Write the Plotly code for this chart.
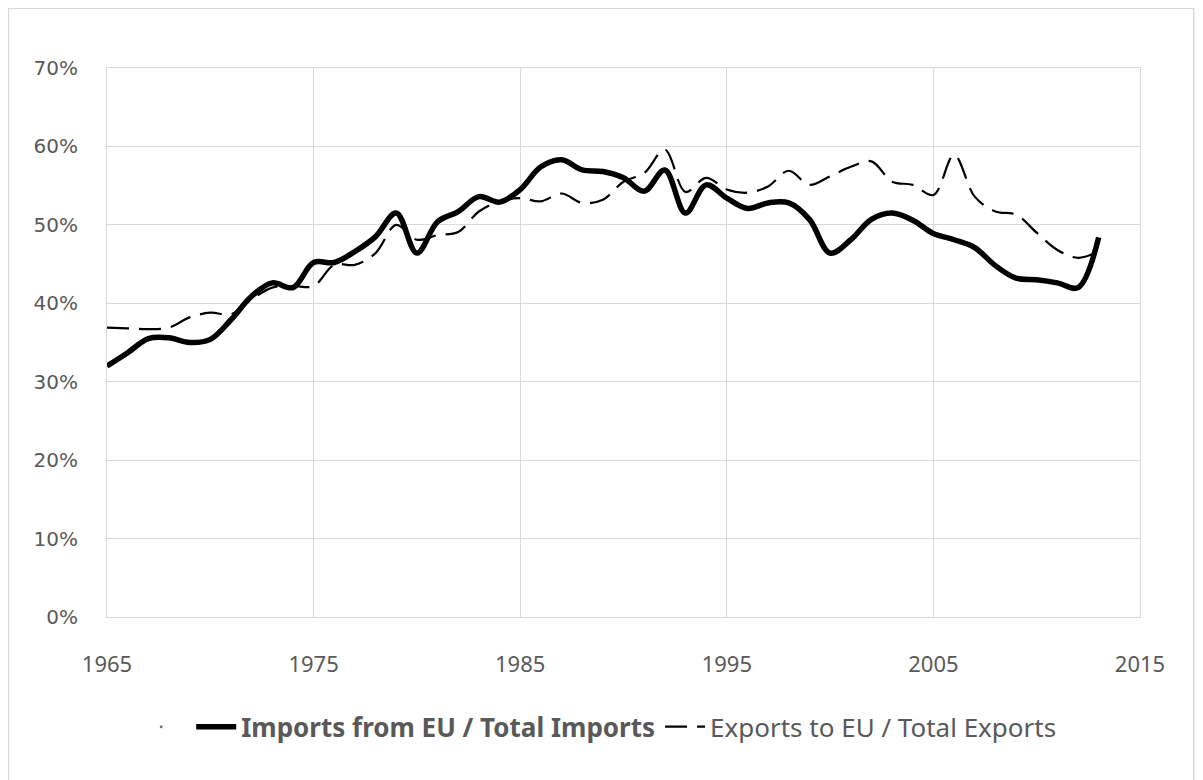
import plotly.graph_objects as go

years = list(range(1965, 2014))

imports_share = [32.0, 33.7, 35.5, 35.6, 35.0, 35.4, 37.9, 40.9, 42.6, 42.0,
                 45.2, 45.2, 46.6, 48.5, 51.5, 46.4, 50.4, 51.7, 53.6, 52.9,
                 54.5, 57.4, 58.3, 57.0, 56.8, 56.0, 54.3, 57.0, 51.5, 55.1,
                 53.4, 52.1, 52.8, 52.8, 50.7, 46.4, 48.1, 50.7, 51.5, 50.6,
                 48.9, 48.1, 47.1, 44.8, 43.2, 43.0, 42.6, 42.0, 48.4]

exports_share = [36.9, 36.8, 36.7, 36.9, 38.2, 38.8, 38.6, 40.5, 42.0, 42.2,
                 42.2, 44.9, 44.9, 46.4, 50.0, 48.1, 48.7, 49.1, 51.7, 53.0,
                 53.4, 53.0, 54.0, 52.8, 53.2, 55.5, 56.6, 59.6, 54.2, 56.0,
                 54.5, 54.1, 54.9, 56.9, 55.1, 56.2, 57.4, 58.1, 55.5, 55.1,
                 53.8, 58.9, 53.6, 51.7, 51.3, 49.0, 46.8, 45.8, 46.6]

x_ticks = [1965, 1975, 1985, 1995, 2005, 2015]
y_ticks = [0, 10, 20, 30, 40, 50, 60, 70]
y_labels = [f"{v}%" for v in y_ticks]

fig = go.Figure()

fig.add_trace(go.Scatter(
    x=[None], y=[None], mode="markers", name="",
    marker=dict(size=3, color="#777777"), showlegend=True,
))

fig.add_trace(go.Scatter(
    x=years, y=imports_share, mode="lines", line_shape="spline",
    name="<b>Imports from EU / Total Imports</b>",
    line=dict(color="black", width=5.5),
))

fig.add_trace(go.Scatter(
    x=years, y=exports_share, mode="lines", line_shape="spline",
    name="Exports to EU / Total Exports",
    line=dict(color="black", width=2.2, dash="22px,10px"),
))

grid = "#d9d9d9"
fig.update_layout(
    width=1203, height=780,
    margin=dict(l=99, r=71, t=60, b=171),
    paper_bgcolor="white", plot_bgcolor="white",
    showlegend=True,
    legend=dict(orientation="h", x=0.476, xanchor="center", y=-0.20, yanchor="middle",
                font=dict(family="Noto Sans", size=26, color="#595959"),
                itemwidth=40, tracegroupgap=0),
    xaxis=dict(range=[1965, 2015], tickvals=x_ticks, showgrid=True, gridcolor=grid,
               gridwidth=1, zeroline=False, showline=True, linecolor=grid, mirror=True,
               tickfont=dict(family="Noto Sans", size=22, color="#595959"),
               ticks="outside", ticklen=28, tickcolor="rgba(0,0,0,0)"),
    yaxis=dict(range=[0, 70], tickvals=y_ticks, ticktext=y_labels, showgrid=True,
               gridcolor=grid, gridwidth=1, zeroline=False, showline=True,
               linecolor=grid, mirror=True,
               tickfont=dict(family="DejaVu Sans", size=20, color="#595959"),
               ticks="outside", ticklen=24, tickcolor="rgba(0,0,0,0)"),
    shapes=[dict(type="rect", xref="paper", yref="paper",
                 x0=-0.0954, x1=1.052, y0=-0.33, y1=1.109,
                 line=dict(color="#d9d9d9", width=1.5), fillcolor="rgba(0,0,0,0)")],
)

fig.write_html("out.html")
